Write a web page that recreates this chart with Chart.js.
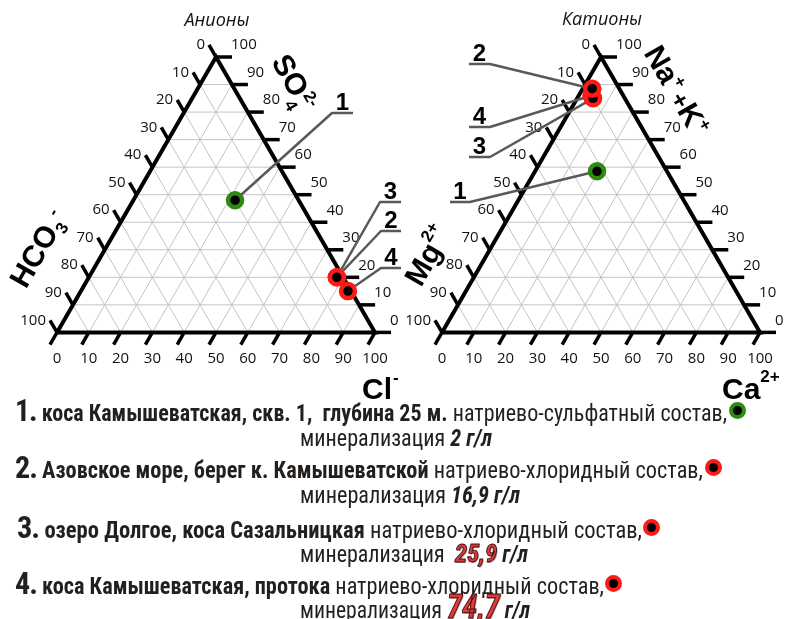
<!DOCTYPE html>
<html lang="ru">
<head>
<meta charset="utf-8">
<title>Ионный состав вод</title>
<script src="https://cdn.jsdelivr.net/npm/chart.js@4.4.1/dist/chart.umd.min.js"></script>
<style>
  html, body { margin: 0; padding: 0; background: #fff; }
  #page { position: relative; width: 789px; height: 619px; overflow: hidden; background: #fff; }
  #page canvas { position: absolute; left: 0; top: 0; }
  .row {
    position: absolute; white-space: nowrap; height: 28px; line-height: 28px;
    font-family: "Liberation Sans Narrow", "Roboto Condensed", "DejaVu Sans Condensed", Roboto, sans-serif;
    font-size: 23px; color: #231f1c; transform-origin: 0 50%;
  }
  .row .num { font-size: 31px; font-weight: bold; letter-spacing: -1px; }
  .row b { font-weight: bold; }
  .row .val { font-weight: bold; font-style: italic; }
  .row .hot {
    font-weight: bold; font-style: italic; color: #e0393b;
    -webkit-text-stroke: 0.9px #3a0e0e; text-shadow: 1px 1px 0 #b8a8a8;
  }
  .dot {
    position: absolute; width: 9px; height: 9px; border-radius: 50%;
    background: #000; border: 4px solid #ff1a1a;
  }
</style>
</head>
<body>
<div id="page">
  <canvas id="anions" width="789" height="410"></canvas>
  <canvas id="cations" width="789" height="410"></canvas>

  <div class="row" style="left:15px;top:397px" data-right="727"><span class="num">1.</span> <b>коса Камышеватская, скв. 1,&nbsp; глубина 25 м.</b> натриево-сульфатный состав,</div>
  <div class="dot" style="left:729px;top:402px;border-color:#2f8a12"></div>
  <div class="row" style="left:300px;top:425px" data-right="492">минерализация <span class="val">2 г/л</span></div>

  <div class="row" style="left:15px;top:454px" data-right="703"><span class="num">2.</span> <b>Азовское море, берег к. Камышеватской</b> натриево-хлоридный состав,</div>
  <div class="dot" style="left:705px;top:459px"></div>
  <div class="row" style="left:300px;top:482px" data-right="520">минерализация <span class="val">16,9 г/л</span></div>

  <div class="row" style="left:17px;top:514px" data-right="642"><span class="num">3.</span> <b>озеро Долгое, коса Сазальницкая</b> натриево-хлоридный состав,</div>
  <div class="dot" style="left:643px;top:519px"></div>
  <div class="row" style="left:300px;top:539px" data-right="528">минерализация&nbsp; <span class="hot" style="font-size:26px">25,9</span> <span class="val">г/л</span></div>

  <div class="row" style="left:15px;top:570px" data-right="604"><span class="num">4.</span> <b>коса Камышеватская, протока</b> натриево-хлоридный состав,</div>
  <div class="dot" style="left:605px;top:575px"></div>
  <div class="row" style="left:300px;top:593px" data-right="530">минерализация <span class="hot" style="font-size:33px">74,7</span> <span class="val">г/л</span></div>
</div>

<script>
// Sample numbers
const samples = ['1', '2', '3', '4'];

// Anions, % equivalents
const hco3 = [20, 2, 2, 1];
const so4 = [48, 20, 20, 15];
const cl = [32, 78, 78, 84];

// Cations, % equivalents
const mg = [22, 8.5, 10, 10];
const naK = [58.5, 88.5, 85, 86];
const ca = [19.5, 3, 5, 4];

// Axis tick labels along every side
const tickValues = [0, 10, 20, 30, 40, 50, 60, 70, 80, 90, 100];

const sampleColors = ['#2f8a12', '#ff1a1a', '#ff1a1a', '#ff1a1a'];

const SQ = Math.sqrt(3) / 2;
const BASE = 318;          // triangle side, px
const TOP = 57;            // apex height, px
const CANVAS_W = 789, CANVAS_H = 410;

// Ternary -> cartesian: bottom component grows to the right, top component grows upward
function toCartesian(bottomPct, topPct) {
  return { x: bottomPct + topPct / 2, y: topPct * SQ };
}

function gridLine(points) {
  return {
    role: 'grid', data: points, showLine: true, borderColor: '#c4c4c4', borderWidth: 1,
    pointRadius: 0, order: 3, clip: false
  };
}

function buildDatasets(bottomVals, topVals) {
  const ds = [];
  samples.forEach((s, i) => ds.push({
    role: 'sample', label: s, data: [toCartesian(bottomVals[i], topVals[i])],
    showLine: false, pointRadius: 7, pointBorderWidth: 4.5, pointHoverRadius: 7,
    pointBackgroundColor: '#000', pointBorderColor: sampleColors[i], order: 0, clip: false
  }));
  ds.push({
    role: 'frame',
    data: [toCartesian(0, 0), toCartesian(100, 0), toCartesian(0, 100), toCartesian(0, 0)],
    showLine: true, borderColor: '#000', borderWidth: 4, borderJoinStyle: 'miter',
    pointRadius: 0, order: 2, clip: false
  });
  tickValues.filter(v => v > 0 && v < 100).forEach(v => {
    ds.push(gridLine([toCartesian(0, v), toCartesian(100 - v, v)]));        // constant top component
    ds.push(gridLine([toCartesian(v, 0), toCartesian(v, 100 - v)]));        // constant bottom component
    ds.push(gridLine([toCartesian(100 - v, 0), toCartesian(0, 100 - v)]));  // constant left component
  });
  return ds;
}

// Text made of runs (subscripts / superscripts), optionally rotated
function drawRich(ctx, x, y, angleDeg, parts) {
  ctx.save();
  ctx.translate(x, y);
  ctx.rotate(angleDeg * Math.PI / 180);
  ctx.textAlign = 'left';
  ctx.textBaseline = 'alphabetic';
  ctx.fillStyle = '#000';
  let cx = 0;
  parts.forEach(p => {
    ctx.font = p.font;
    if (p.x !== undefined) cx = p.x;
    cx += p.dx || 0;
    ctx.fillText(p.t, cx, p.dy || 0);
    cx += ctx.measureText(p.t).width;
  });
  ctx.restore();
}

const TICK_FONT = '15px "Open Sans", "Liberation Sans", sans-serif';
const BIG = 'bold 30px "Liberation Sans", Arial, sans-serif';
const SMALL = 'bold 17px "Liberation Sans", Arial, sans-serif';

const ternaryDecor = {
  id: 'ternaryDecor',
  afterDatasetDraw(chart, args, opts) {
    if (chart.data.datasets[args.index].role !== 'frame') return;
    const ctx = chart.ctx;
    const sx = chart.scales.x, sy = chart.scales.y;
    const px = (b, t) => {
      const c = toCartesian(b, t);
      return { x: sx.getPixelForValue(c.x), y: sy.getPixelForValue(c.y) };
    };
    ctx.save();
    ctx.strokeStyle = '#000';
    ctx.lineWidth = 3.5;
    ctx.lineCap = 'butt';
    ctx.fillStyle = '#111';
    ctx.font = TICK_FONT;
    const L = 14, LH = 16;
    tickValues.forEach(v => {
      // bottom side
      let p = px(v, 0);
      let e = { x: p.x - L * 0.5, y: p.y + L * SQ };
      ctx.beginPath(); ctx.moveTo(p.x, p.y); ctx.lineTo(e.x, e.y); ctx.stroke();
      ctx.textAlign = 'center'; ctx.textBaseline = 'middle';
      ctx.fillText(String(v), p.x, p.y + 26);
      // left side, 0 at the apex
      p = px(0, 100 - v);
      e = { x: p.x - L * 0.5, y: p.y - L * SQ };
      ctx.beginPath(); ctx.moveTo(p.x, p.y); ctx.lineTo(e.x, e.y); ctx.stroke();
      ctx.textAlign = 'right';
      ctx.fillText(String(v), e.x - 4, e.y);
      // right side, 100 at the apex
      p = px(100 - v, v);
      e = { x: p.x + LH, y: p.y };
      ctx.beginPath(); ctx.moveTo(p.x, p.y); ctx.lineTo(e.x, e.y); ctx.stroke();
      ctx.textAlign = 'left';
      ctx.fillText(String(v), e.x - 1, p.y - 12);
    });

    // callout lines from the sample markers to their numbers
    ctx.strokeStyle = '#595959';
    ctx.lineWidth = 2.5;
    ctx.lineJoin = 'round';
    ctx.fillStyle = '#000';
    ctx.font = 'bold 24px "Liberation Sans", Arial, sans-serif';
    ctx.textAlign = 'center'; ctx.textBaseline = 'alphabetic';
    opts.callouts.forEach(c => {
      const dsIndex = chart.data.datasets.findIndex(d => d.role === 'sample' && d.label === c.sample);
      const pt = chart.getDatasetMeta(dsIndex).data[0];
      ctx.beginPath();
      ctx.moveTo(pt.x, pt.y);
      ctx.lineTo(c.elbow[0], c.elbow[1]);
      ctx.lineTo(c.end[0], c.end[1]);
      ctx.stroke();
      ctx.fillText(c.sample, (c.elbow[0] + c.end[0]) / 2, c.elbow[1] - 3);
    });
    ctx.restore();
  },
  afterDraw(chart, args, opts) {
    const ctx = chart.ctx;
    ctx.save();
    ctx.fillStyle = '#111';
    ctx.font = 'italic 18px "Open Sans", "Liberation Sans", sans-serif';
    ctx.textAlign = 'center'; ctx.textBaseline = 'middle';
    ctx.fillText(opts.header.text, opts.header.x, opts.header.y);
    ctx.restore();
    opts.titles.forEach(t => drawRich(ctx, t.x, t.y, t.angle, t.parts));
  }
};

function makeTernary(id, bottomVals, topVals, left, decor) {
  return new Chart(document.getElementById(id), {
    type: 'scatter',
    data: { datasets: buildDatasets(bottomVals, topVals) },
    options: {
      responsive: false, animation: false, devicePixelRatio: 1,
      layout: { padding: { left: left, right: CANVAS_W - left - BASE, top: TOP, bottom: CANVAS_H - TOP - BASE * SQ } },
      scales: {
        x: { type: 'linear', min: 0, max: 100, display: false },
        y: { type: 'linear', min: 0, max: 100 * SQ, display: false }
      },
      plugins: { legend: { display: false }, tooltip: { enabled: false }, ternaryDecor: decor },
      events: []
    },
    plugins: [ternaryDecor]
  });
}

// Anions: Cl- along the bottom, SO4 2- at the apex, HCO3- at the lower left
makeTernary('anions', cl, so4, 57, {
  header: { text: 'Анионы', x: 217, y: 21 },
  callouts: [
    { sample: '1', elbow: [332, 113], end: [353, 113] },
    { sample: '3', elbow: [380, 202], end: [401, 202] },
    { sample: '2', elbow: [381, 231], end: [401, 231] },
    { sample: '4', elbow: [381, 268], end: [401, 268] }
  ],
  titles: [
    { x: 270.7, y: 61.7, angle: 60, parts: [
      { t: 'SO', font: BIG }, { t: '4', font: SMALL, dy: 10 }, { t: '2-', font: SMALL, x: 45, dy: -11 } ] },
    { x: 25.9, y: 289.7, angle: -60, parts: [
      { t: 'HCO', font: BIG }, { t: '3', font: SMALL, dy: 6 }, { t: '-', font: SMALL, x: 78, dy: -10 } ] },
    { x: 362, y: 399, angle: 0, parts: [
      { t: 'Cl', font: BIG }, { t: '-', font: SMALL, dx: 1, dy: -16 } ] }
  ]
});

// Cations: Ca2+ along the bottom, Na+ + K+ at the apex, Mg2+ at the lower left
makeTernary('cations', ca, naK, 442, {
  header: { text: 'Катионы', x: 602, y: 20 },
  callouts: [
    { sample: '2', elbow: [490, 64], end: [469, 64] },
    { sample: '4', elbow: [490, 127], end: [469, 127] },
    { sample: '3', elbow: [490, 157], end: [469, 157] },
    { sample: '1', elbow: [470, 202], end: [450, 202] }
  ],
  titles: [
    { x: 643.3, y: 53, angle: 60, parts: [
      { t: 'Na', font: BIG }, { t: '+', font: SMALL, dy: -12 },
      { t: '+', font: 'bold 24px "Liberation Sans", Arial, sans-serif', dx: 4 },
      { t: 'K', font: BIG }, { t: '+', font: SMALL, dy: -12 } ] },
    { x: 421, y: 288, angle: -60, parts: [
      { t: 'Mg', font: BIG }, { t: '2+', font: SMALL, dy: -15 } ] },
    { x: 722, y: 399, angle: 0, parts: [
      { t: 'Ca', font: BIG }, { t: '2+', font: SMALL, dy: -17 } ] }
  ]
});

// Fit each caption row to its column width
document.querySelectorAll('.row').forEach(el => {
  const target = Number(el.dataset.right) - el.offsetLeft;
  const w = el.getBoundingClientRect().width;
  if (w > 0) el.style.transform = 'scaleX(' + (target / w).toFixed(4) + ')';
});
</script>
</body>
</html>
